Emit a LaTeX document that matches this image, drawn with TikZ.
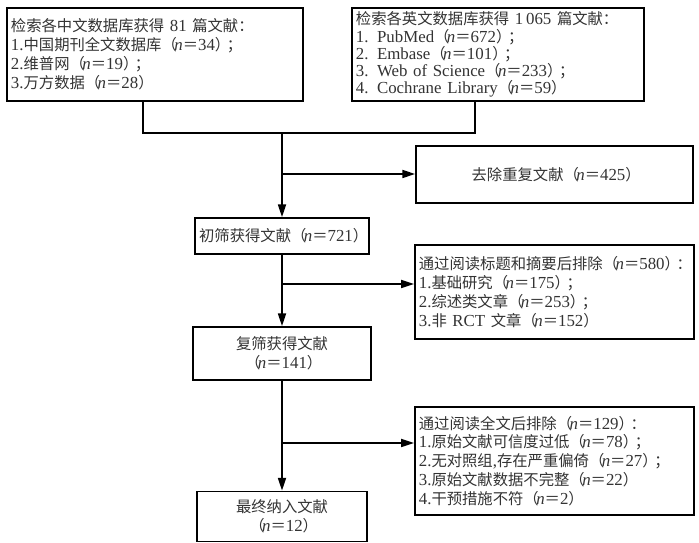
\documentclass[tikz,border=0pt]{standalone}
\usepackage{fontspec}
\setmainfont{Liberation Serif}[Scale=1.1]
\newfontfamily\cjk{Noto Sans CJK SC}
\usetikzlibrary{arrows.meta}
\newcommand\zh[1]{{\cjk #1}}
\newcommand\nval[1]{\zh{（}\kern-.15em\textit{n}\zh{＝}#1\zh{）}\kern-.2em}

\begin{document}
\begin{tikzpicture}[x=0.025cm, y=-0.025cm, >={Triangle[length=3.2mm, width=2mm]}, line width=1.2pt,
  box/.style={draw, line width=1.2pt, text=black!80, inner xsep=0.1cm, inner ysep=0pt,
    font=\fontsize{10.9}{13.4}\selectfont},
  listbox/.style={box, align=left}]
  \useasboundingbox (0,0) rectangle (699,543);
  % ===== Databases =====
  \node[listbox, text width=7.2cm, minimum width=7.4cm, minimum height=2.325cm] (cnDB) at (155,54.5)
    {\zh{检索各中文数据库获得} 81 \zh{篇文献：}\\
     1.\zh{中国期刊全文数据库}\nval{34}\zh{；}\\
     2.\zh{维普网}\nval{19}\zh{；}\\
     3.\zh{万方数据}\nval{28}};
  \node[listbox, text width=7.1cm, minimum width=7.3cm, minimum height=2.325cm,
    font=\fontsize{10.9}{12.2}\selectfont] (enDB) at (498,54.5)
    {\zh{检索各英文数据库获得} 1\,065 \zh{篇文献：}\\
     1. PubMed\nval{672}\zh{；}\\
     2. Embase\nval{101}\zh{；}\\
     3. Web of Science\nval{233}\zh{；}\\
     4. Cochrane Library\nval{59}};
  % ===== Screening =====
  \node[box, minimum width=6.925cm, minimum height=1.425cm] (dedup) at (554.5,174.5)
    {\zh{去除重复文献}\nval{425}};
  \node[box, minimum width=4.2cm, minimum height=0.9cm] (scr1) at (282,236)
    {\zh{初筛获得文献}\nval{721}};
  \node[listbox, text width=6.78cm, minimum width=6.925cm, minimum height=2.35cm] (excl1) at (554.5,292)
    {\zh{通过阅读标题和摘要后排除}\nval{580}\zh{：}\\
     1.\zh{基础研究}\nval{175}\zh{；}\\
     2.\zh{综述类文章}\nval{253}\zh{；}\\
     3.\zh{非} RCT \zh{文章}\nval{152}};
  \node[box, align=center, minimum width=4.45cm, minimum height=1.325cm] (scr2) at (282,353.5)
    {\zh{复筛获得文献}\\\nval{141}};
  \node[listbox, text width=6.78cm, minimum width=6.925cm, minimum height=2.7cm] (excl2) at (554.5,461)
    {\zh{通过阅读全文后排除}\nval{129}\zh{：}\\
     1.\zh{原始文献可信度过低}\nval{78}\zh{；}\\
     2.\zh{无对照组},\zh{存在严重偏倚}\nval{27}\zh{；}\\
     3.\zh{原始文献数据不完整}\nval{22}\\
     4.\zh{干预措施不符}\nval{2}};
  \node[box, align=center, minimum width=4.25cm, minimum height=1.25cm] (final) at (282,516.5)
    {\zh{最终纳入文献}\\\nval{12}};
  % ===== Connectors =====
  \coordinate (jA) at (143,133); \coordinate (jB) at (475,133); \coordinate (mrg) at (282,133);
  \draw (cnDB.south -| jA) |- (jB) -- (enDB.south -| jB);
  \draw[->] (mrg) -- (scr1.north);
  \coordinate (b1) at (282,174); \draw[->] (b1) -- (b1 -| dedup.west);
  \draw[->] (scr1) -- (scr2);
  \coordinate (b2) at (282,284); \draw[->] (b2) -- (b2 -| excl1.west);
  \draw[->] (scr2) -- (final);
  \coordinate (b3) at (282,443); \draw[->] (b3) -- (b3 -| excl2.west);
\end{tikzpicture}
\end{document}
